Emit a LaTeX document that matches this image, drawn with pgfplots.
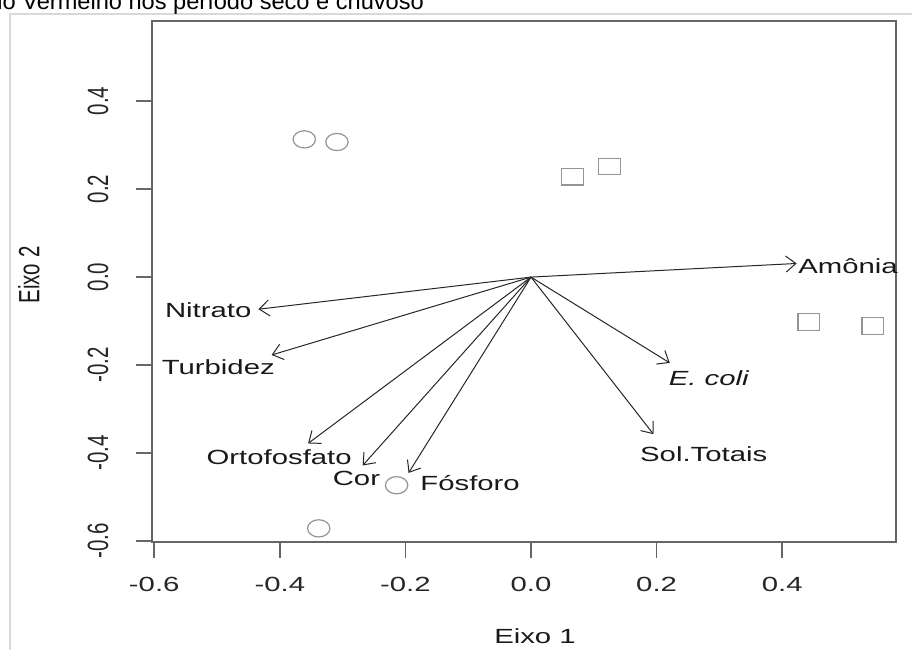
\documentclass[border=0pt]{standalone}
\usepackage{pgfplots}
\pgfplotsset{compat=1.18}
\usepackage{fontspec}
\setmainfont{Liberation Sans}
\newfontfamily\stretched{Liberation Sans}[FakeStretch=1.43]
\usetikzlibrary{arrows.meta}
\newcommand{\labfont}{\stretched\fontsize{10.25}{12}\selectfont}
\newcommand{\rotfont}{\fontsize{10.25}{12}\selectfont}
\newcommand{\vs}[1]{\scalebox{1}[1.43]{#1}}
\begin{document}
\begin{tikzpicture}[x=1pt,y=1pt]
\path[use as bounding box] (0,0) rectangle (456,325);
\draw[black!15, line width=0.6pt] (5,0) -- (5,318) -- (456,318);
\node[anchor=base west, inner sep=0, font=\fontsize{11.8}{14}\selectfont] at (-10,320.3) {Rio Vermelho nos período seco e chuvoso};
\begin{axis}[
  at={(76pt,54pt)}, anchor=south west, scale only axis,
  width=372pt, height=260.5pt,
  xmin=-0.6035, xmax=0.5812, ymin=-0.602, ymax=0.582,
  axis line style={black!60, line width=1pt},
  tick style={black!60, line width=0.8pt},
  tick align=outside, major tick length=8pt,
  xtick pos=left, ytick pos=left,
  xtick={-0.6,-0.4,-0.2,0,0.2,0.4},
  ytick={-0.6,-0.4,-0.2,0,0.2,0.4},
  xticklabels={-0.6,-0.4,-0.2,0.0,0.2,0.4},
  yticklabels={\vs{-0.6},\vs{-0.4},\vs{-0.2},\vs{0.0},\vs{0.2},\vs{0.4}},
  xticklabel style={font=\labfont, text=black!85, anchor=center, inner sep=0pt, yshift=-13pt},
  yticklabel style={font=\rotfont, text=black!85, anchor=center, inner sep=0pt, xshift=-19pt, rotate=90},
  clip=false,
]
% sites (circles and squares)
\addplot[only marks, mark=o, mark size=4.3pt, draw=black!42, mark options={xscale=1.3, line width=0.6pt}]
  coordinates {(-0.361,0.313) (-0.309,0.307) (-0.214,-0.473) (-0.338,-0.571)};
\addplot[only marks, mark=square, mark size=4.1pt, draw=black!42, mark options={xscale=1.3, line width=0.6pt}]
  coordinates {(0.066,0.228) (0.125,0.251) (0.442,-0.102) (0.544,-0.111)};
% variable arrows
\pgfplotsset{arr/.style={black!85, line width=0.5pt, -{Straight Barb[length=5pt,width=8pt]}}}
\addplot[arr] coordinates {(0,0) (0.423,0.031)};
\addplot[arr] coordinates {(0,0) (-0.434,-0.073)};
\addplot[arr] coordinates {(0,0) (-0.413,-0.177)};
\addplot[arr] coordinates {(0,0) (-0.355,-0.378)};
\addplot[arr] coordinates {(0,0) (-0.268,-0.428)};
\addplot[arr] coordinates {(0,0) (-0.195,-0.445)};
\addplot[arr] coordinates {(0,0) (0.221,-0.195)};
\addplot[arr] coordinates {(0,0) (0.195,-0.357)};
\begin{scope}[every node/.style={font=\labfont, text=black!90, inner sep=0pt}]
\node[anchor=base west] at (axis cs:0.425,0.009) {Amônia};
\node[anchor=base] at (axis cs:-0.514,-0.092) {Nitrato};
\node[anchor=base] at (axis cs:-0.498,-0.221) {Turbidez};
\node[anchor=base] at (axis cs:-0.401,-0.425) {Ortofosfato};
\node[anchor=base] at (axis cs:-0.278,-0.474) {Cor};
\node[anchor=base] at (axis cs:-0.097,-0.486) {Fósforo};
\node[anchor=base] at (axis cs:0.283,-0.247) {\itshape E. coli};
\node[anchor=base] at (axis cs:0.275,-0.419) {Sol.Totais};
\end{scope}
\end{axis}
\node[font=\labfont, text=black!90, inner sep=0pt] at (267.5,7) {Eixo 1};
\node[font=\rotfont, text=black!90, inner sep=0pt, rotate=90] at (14.5,187.5) {\vs{Eixo 2}};
\end{tikzpicture}
\end{document}
